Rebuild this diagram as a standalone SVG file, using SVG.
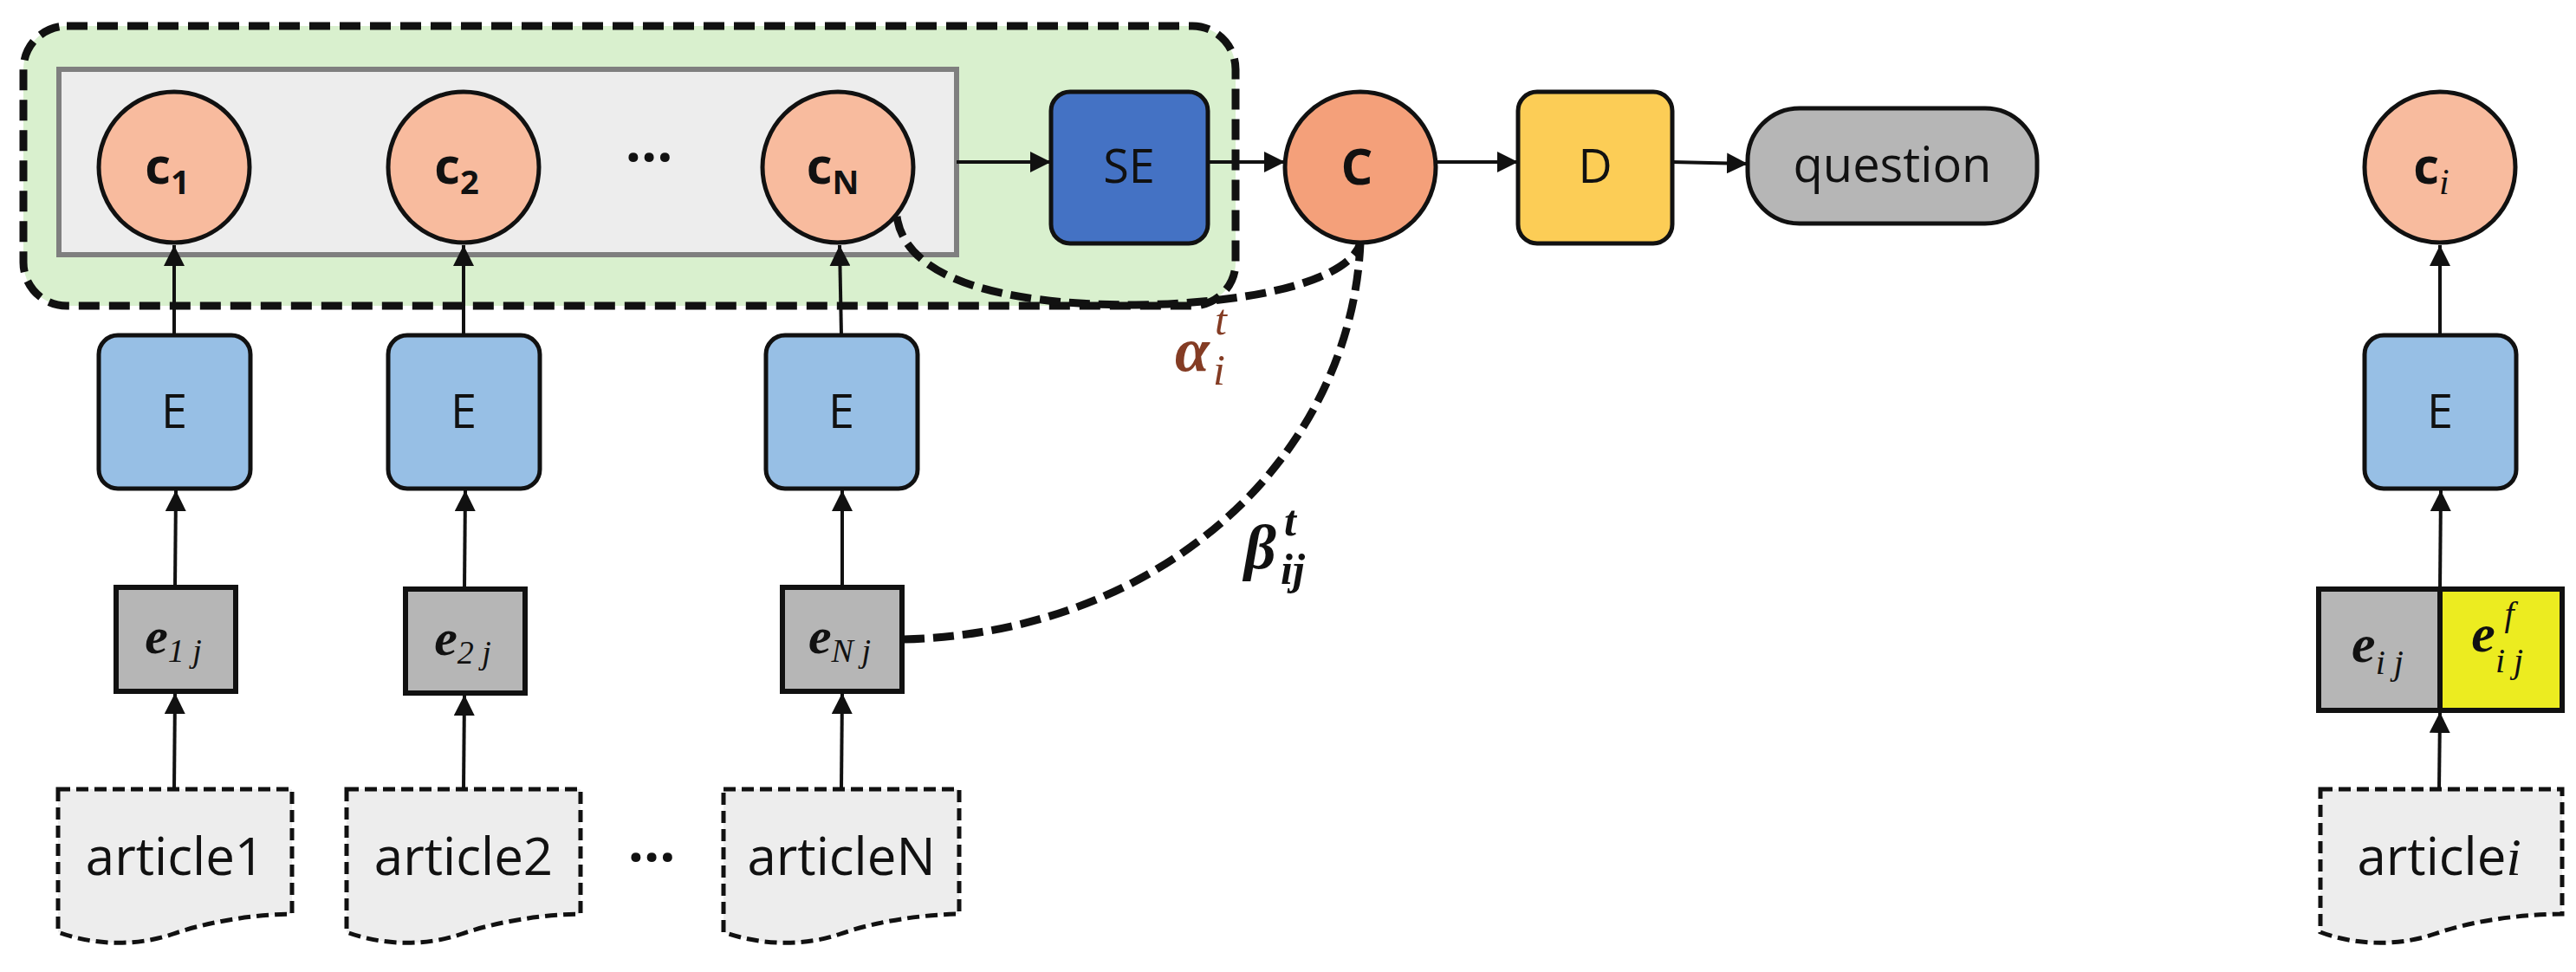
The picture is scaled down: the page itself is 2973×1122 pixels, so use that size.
<svg xmlns="http://www.w3.org/2000/svg" width="2973" height="1122" viewBox="0 0 2973 1122">
<style>
.c{fill:#F8BB9E;stroke:#111;stroke-width:5}
.E{fill:#97BFE5;stroke:#111;stroke-width:5}
.ev{fill:#B6B6B6;stroke:#111;stroke-width:6}
.doc{fill:#EDEDED;stroke:#111;stroke-width:5;stroke-dasharray:14 7}
.t{font-family:"Open Sans","Liberation Sans",sans-serif;fill:#111;text-anchor:middle}
.m{font-family:"Liberation Serif","DejaVu Serif",serif;font-style:italic;fill:#111;text-anchor:middle}
.ar{stroke:#111;stroke-width:4;fill:none;marker-end:url(#a2)}
.da{stroke:#111;stroke-width:9;fill:none;stroke-dasharray:24 10}
</style>
<defs>
<marker id="a2" viewBox="0 0 10 10" refX="10" refY="5" markerWidth="24" markerHeight="24" markerUnits="userSpaceOnUse" orient="auto"><path d="M0,0 L10,5 L0,10 Z" fill="#111"/></marker>
</defs>
<g id="group">
<rect x="27" y="30" width="1399" height="323" rx="50" fill="#D9F0CE" stroke="#111" stroke-width="9" stroke-dasharray="24 11"/>
<rect x="68" y="80" width="1036" height="214" fill="#EDEDED" stroke="#7F7F7F" stroke-width="6"/>
</g>
<g id="c1"><ellipse class="c" cx="201" cy="193" rx="87" ry="87"/><text class="t" x="193" y="212" font-size="58" font-weight="bold">c<tspan font-size="38" dy="12">1</tspan></text></g>
<g id="c2"><ellipse class="c" cx="535" cy="193" rx="87" ry="87"/><text class="t" x="527" y="212" font-size="58" font-weight="bold">c<tspan font-size="38" dy="12">2</tspan></text></g>
<text class="t" x="749" y="204" font-size="64" font-weight="bold">···</text>
<g id="cN"><ellipse class="c" cx="967" cy="193" rx="87" ry="87"/><text class="t" x="961" y="212" font-size="58" font-weight="bold">c<tspan font-size="38" dy="12">N</tspan></text></g>
<g id="SE"><rect x="1213" y="106" width="181" height="175" rx="22" fill="#4472C4" stroke="#111" stroke-width="5"/><text class="t" x="1303" y="211" font-size="54">SE</text></g>
<g id="C"><ellipse cx="1570" cy="193" rx="87" ry="87" fill="#F4A07A" stroke="#111" stroke-width="5"/><text class="t" x="1566" y="213" font-size="58" font-weight="bold">C</text></g>
<g id="D"><rect x="1752" y="106" width="178" height="175" rx="22" fill="#FCCD56" stroke="#111" stroke-width="5"/><text class="t" x="1841" y="211" font-size="54">D</text></g>
<g id="question"><rect x="2017" y="125" width="334" height="133" rx="60" fill="#B6B6B6" stroke="#111" stroke-width="5"/><text class="t" x="2184" y="210" font-size="56">question</text></g>
<g id="ci"><ellipse class="c" cx="2816" cy="193" rx="87" ry="87"/><text class="t" x="2806" y="212" font-size="58" font-weight="bold">c<tspan class="m" font-size="42" dy="12" font-weight="normal">i</tspan></text></g>
<g id="E1"><rect class="E" x="114" y="387" width="175" height="177" rx="22"/><text class="t" x="201" y="494" font-size="54">E</text></g>
<g id="E2"><rect class="E" x="448" y="387" width="175" height="177" rx="22"/><text class="t" x="535" y="494" font-size="54">E</text></g>
<g id="EN"><rect class="E" x="884" y="387" width="175" height="177" rx="22"/><text class="t" x="971" y="494" font-size="54">E</text></g>
<g id="Ei"><rect class="E" x="2729" y="387" width="175" height="177" rx="22"/><text class="t" x="2816" y="494" font-size="54">E</text></g>
<g id="e1j"><rect class="ev" x="134" y="678" width="138" height="120"/><text class="m" x="200" y="754" font-size="60" font-weight="bold">e<tspan font-size="38" font-weight="normal" dy="10">1 j</tspan></text></g>
<g id="e2j"><rect class="ev" x="468" y="680" width="138" height="120"/><text class="m" x="534" y="756" font-size="60" font-weight="bold">e<tspan font-size="38" font-weight="normal" dy="10">2 j</tspan></text></g>
<g id="eNj"><rect class="ev" x="903" y="678" width="138" height="120"/><text class="m" x="969" y="754" font-size="60" font-weight="bold">e<tspan font-size="38" font-weight="normal" dy="10">N j</tspan></text></g>
<g id="eij"><rect class="ev" x="2676" y="680" width="140" height="140"/><rect x="2816" y="680" width="141" height="140" fill="#ECEC20" stroke="#111" stroke-width="6"/>
<text class="m" x="2744" y="764" font-size="62" font-weight="bold">e<tspan font-size="40" font-weight="normal" dy="14">i j</tspan></text>
<text class="m" x="2866" y="752" font-size="62" font-weight="bold">e</text><text class="m" x="2896" y="722" font-size="40">f</text><text class="m" x="2896" y="776" font-size="40">i j</text></g>
<g id="article1"><path class="doc" d="M67,911 H337 V1055 C290,1056 240,1064 200,1078 C160,1092 110,1092 67,1076 Z"/><text class="t" x="202" y="1010" font-size="60">article1</text></g>
<g id="article2"><path class="doc" d="M400,911 H670 V1055 C623,1056 573,1064 533,1078 C493,1092 443,1092 400,1076 Z"/><text class="t" x="535" y="1010" font-size="60">article2</text></g>
<text class="t" x="752" y="1012" font-size="64" font-weight="bold">···</text>
<g id="articleN"><path class="doc" d="M835,911 H1107 V1055 C1060,1056 1010,1064 970,1078 C930,1092 880,1092 835,1076 Z"/><text class="t" x="971" y="1010" font-size="60">articleN</text></g>
<g id="articlei"><path class="doc" d="M2678,911 H2957 V1055 C2900,1056 2850,1064 2810,1078 C2770,1092 2720,1092 2678,1076 Z"/><text class="t" x="2815" y="1010" font-size="60">article<tspan class="m" font-size="62">i</tspan></text></g>
<g id="connectors">
<line class="ar" x1="201" y1="387" x2="201" y2="283"/>
<line class="ar" x1="535" y1="387" x2="535" y2="283"/>
<line class="ar" x1="971" y1="387" x2="969" y2="283"/>
<line class="ar" x1="2816" y1="387" x2="2816" y2="283"/>
<line class="ar" x1="202" y1="678" x2="203" y2="566"/>
<line class="ar" x1="536" y1="680" x2="537" y2="566"/>
<line class="ar" x1="972" y1="678" x2="972" y2="566"/>
<line class="ar" x1="2816" y1="680" x2="2817" y2="566"/>
<line class="ar" x1="201" y1="911" x2="202" y2="800"/>
<line class="ar" x1="535" y1="911" x2="536" y2="802"/>
<line class="ar" x1="971" y1="911" x2="972" y2="800"/>
<line class="ar" x1="2815" y1="911" x2="2816" y2="822"/>
<line class="ar" x1="1104" y1="187" x2="1213" y2="187"/>
<line class="ar" x1="1394" y1="187" x2="1483" y2="187"/>
<line class="ar" x1="1657" y1="187" x2="1752" y2="187"/>
<line class="ar" x1="1930" y1="187" x2="2017" y2="189"/>
<path class="da" d="M1035,250 C1045,320 1150,352 1310,352 C1460,350 1560,320 1570,280"/>
<path class="da" d="M1043,738 C1350,730 1560,520 1570,280"/>
</g>
<text x="1356" y="428" font-family="Liberation Serif,serif" font-style="italic" font-weight="bold" font-size="72" fill="#843C24">α</text>
<text x="1402" y="386" font-family="Liberation Serif,serif" font-style="italic" font-size="50" fill="#843C24">t</text>
<text x="1400" y="444" font-family="Liberation Serif,serif" font-style="italic" font-size="50" fill="#843C24">i</text>
<text x="1436" y="656" font-family="Liberation Serif,serif" font-style="italic" font-weight="bold" font-size="72" fill="#111">β</text>
<text x="1482" y="618" font-family="Liberation Serif,serif" font-style="italic" font-weight="bold" font-size="50" fill="#111">t</text>
<text x="1478" y="674" font-family="Liberation Serif,serif" font-style="italic" font-weight="bold" font-size="50" fill="#111">ij</text>
</svg>
